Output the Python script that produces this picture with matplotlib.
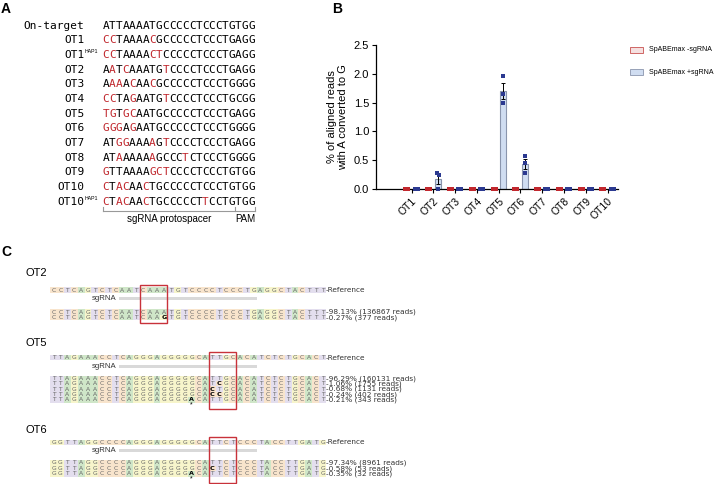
import matplotlib
matplotlib.use('Agg')
import matplotlib.pyplot as plt
from matplotlib.patches import Rectangle
import numpy as np

plt.rcParams['font.family'] = ['Liberation Sans', 'DejaVu Sans']

# ---------------- data ----------------
# panel A
a_labels = ['On-target', 'OT1', 'OT1', 'OT2', 'OT3', 'OT4', 'OT5', 'OT6',
            'OT7', 'OT8', 'OT9', 'OT10', 'OT10']
a_sups = ['', '', 'HAP1', '', '', '', '', '', '', '', '', '', 'HAP1']
a_seqs = [
    'ATTAAAATGCCCCCTCCCTGTGG',
    'CCTAAAACGCCCCCTCCCTGAGG',
    'CCTAAAACTCCCCCTCCCTGAGG',
    'AATCAAATGTCCCCTCCCTGAGG',
    'AAAACAACGCCCCCTCCCTGGGG',
    'CCTAGAATGTCCCCTCCCTGCGG',
    'TGTGCAATGCCCCCTCCCTGAGG',
    'GGGAGAATGCCCCCTCCCTGGGG',
    'ATGGAAAAGTCCCCTCCCTGAGG',
    'ATAAAAAAGCCCTCTCCCTGGGG',
    'GTTAAAAGCTCCCCTCCCTGTGG',
    'CTACAACTGCCCCCTCCCTGTGG',
    'CTACAACTGCCCCCTTCCTGTGG',
]

# panel B
sites = ['OT1', 'OT2', 'OT3', 'OT4', 'OT5', 'OT6', 'OT7', 'OT8', 'OT9', 'OT10']
minus_pts = np.zeros((10, 3))
plus_pts = np.array([
    [0.0, 0.0, 0.0],
    [0.27, 0.25, 0.0],
    [0.0, 0.0, 0.0],
    [0.0, 0.0, 0.0],
    [1.97, 1.65, 1.50],
    [0.58, 0.45, 0.28],
    [0.0, 0.0, 0.0],
    [0.0, 0.0, 0.0],
    [0.0, 0.0, 0.0],
    [0.0, 0.0, 0.0],
])
series_names = ['SpABEmax -sgRNA', 'SpABEmax +sgRNA']

# panel C
c_names = ['OT2', 'OT5', 'OT6']
c_refs = [
    'CCTCAGTCTCAATCAAATGTCCCCTCCCTGAGGCTACTTT',
    'TTAGAAACCTCAGGGAGGGGGCATTGCACATCTCTGCACT',
    'GGTTAGGCCCCAGGGAGGGGGCATTCTCCCTACCTTGATG',
]
c_alleles = [
    ['CCTCAGTCTCAATCAAATGTCCCCTCCCTGAGGCTACTTT',
     'CCTCAGTCTCAATCAAGTGTCCCCTCCCTGAGGCTACTTT'],
    ['TTAGAAACCTCAGGGAGGGGGCATTGCACATCTCTGCACT',
     'TTAGAAACCTCAGGGAGGGGGCATCGCACATCTCTGCACT',
     'TTAGAAACCTCAGGGAGGGGGCACTGCACATCTCTGCACT',
     'TTAGAAACCTCAGGGAGGGGGCACCGCACATCTCTGCACT',
     'TTAGAAACCTCAGGGAGGGGACATTGCACATCTCTGCACT'],
    ['GGTTAGGCCCCAGGGAGGGGGCATTCTCCCTACCTTGATG',
     'GGTTAGGCCCCAGGGAGGGGGCACTCTCCCTACCTTGATG',
     'GGTTAGGCCCCAGGGAGGGGACATTCTCCCTACCTTGATG'],
]
c_freqs = [
    ['98.13% (136867 reads)', '0.27% (377 reads)'],
    ['96.29% (160131 reads)', '1.06% (1755 reads)', '0.68% (1131 reads)',
     '0.24% (402 reads)', '0.21% (343 reads)'],
    ['97.34% (8961 reads)', '0.58% (53 reads)', '0.35% (32 reads)'],
]
c_box = [(13, 4), (23, 4), (23, 4)]      # first cell, number of cells
c_star = [None, 20, 20]
sg_span = (10, 30)

base_col = {'A': '#cfe6c8', 'C': '#f8e4cc', 'G': '#f7f5cb', 'T': '#e3deee'}

# ---------------- figure ----------------
fig = plt.figure(figsize=(7.17, 4.84), dpi=100)
ov = fig.add_axes([0, 0, 1, 1])
ov.set_xlim(0, 717)
ov.set_ylim(484, 0)
ov.axis('off')

for lab, x, y in [('A', 1, 9), ('B', 332, 9), ('C', 1, 252)]:
    ov.text(x, y, lab, fontsize=10, fontweight='bold', va='center', ha='left')

# ---- panel A ----
mono = 'DejaVu Sans Mono'
cw = 6.63
x0 = 102.7
ontarget = a_seqs[0]
for i, (lab, sup, seq) in enumerate(zip(a_labels, a_sups, a_seqs)):
    y = 25.7 + 14.67 * i
    ov.text(84.5, y, lab, family=mono, fontsize=8, ha='right', va='center')
    if sup:
        ov.text(85, y - 3.5, sup, fontsize=3.8, ha='left', va='center')
    for j, ch in enumerate(seq):
        red = i > 0 and j < 20 and ch != ontarget[j]
        ov.text(x0 + cw * (j + 0.5), y, ch, family=mono, fontsize=8,
                ha='center', va='center', color='#c0272d' if red else 'black')

yb = 211
xs_end = x0 + cw * 20
xp_end = x0 + cw * 23
ov.plot([x0, xp_end], [yb, yb], color='#999999', lw=0.8)
for xx in (x0, xs_end, xp_end):
    ov.plot([xx, xx], [yb - 4, yb], color='#999999', lw=0.8)
ov.text((x0 + xs_end) / 2, 219.5, 'sgRNA protospacer', fontsize=7, ha='center', va='center')
ov.text((xs_end + xp_end) / 2, 219.5, 'PAM', fontsize=7, ha='center', va='center')

# ---- panel B ----
ax = fig.add_axes([376 / 717, 1 - 189 / 484, 242 / 717, 144 / 484])
xg = np.arange(len(sites))
off = 0.21
bw = 0.28
red_edge, red_face, red_pt = '#c9504f', '#f5e0e0', '#c1272d'
blu_edge, blu_face, blu_pt = '#8a95ad', '#d0ddf1', '#2b3990'


def spread(vals, step=0.07, tol=0.05):
    # side-by-side offsets for replicate points that would sit on top of each other
    o = np.zeros(len(vals))
    done = set()
    for k in range(len(vals)):
        if k in done:
            continue
        grp = [m for m in range(len(vals)) if abs(vals[m] - vals[k]) < tol]
        done.update(grp)
        for r, m in enumerate(grp):
            o[m] = (r - (len(grp) - 1) / 2) * step
    return o


for pts, sgn, ec, fc, pc in [(minus_pts, -1, red_edge, red_face, red_pt),
                             (plus_pts, 1, blu_edge, blu_face, blu_pt)]:
    mean = pts.mean(axis=1)
    sem = pts.std(axis=1, ddof=1) / np.sqrt(pts.shape[1])
    xs = xg + sgn * off
    ax.bar(xs, mean, width=bw, color=fc, edgecolor=ec, linewidth=0.8, zorder=2)
    ax.errorbar(xs, mean, yerr=sem, fmt='none', ecolor='black', elinewidth=0.7,
                capsize=1.5, capthick=0.7, zorder=3)
    for k in range(len(sites)):
        ax.scatter(xs[k] + spread(pts[k]), pts[k], marker='s', s=5, color=pc,
                   zorder=4, linewidths=0, clip_on=False)

ax.set_xlim(-1.63, 9.48)
ax.set_ylim(0, 2.5)
ax.set_yticks([0, 0.5, 1.0, 1.5, 2.0, 2.5])
ax.set_yticklabels(['0.0', '0.5', '1.0', '1.5', '2.0', '2.5'], fontsize=8)
ax.set_xticks(xg)
ax.set_xticklabels(sites, rotation=45, ha='right', rotation_mode='anchor', fontsize=7.5)
ax.tick_params(length=3, width=0.8, pad=2)
for s in ('top', 'right'):
    ax.spines[s].set_visible(False)
for s in ('left', 'bottom'):
    ax.spines[s].set_linewidth(0.9)
ax.set_ylabel('% of aligned reads\nwith A converted to G', fontsize=8, labelpad=4,
              linespacing=1.15)
ax.patch.set_alpha(0)

for k, (nm, fc, ec) in enumerate(zip(series_names, [red_face, blu_face], [red_edge, blu_edge])):
    yy = 49.7 + 22.6 * k
    ov.add_patch(Rectangle((630, yy - 3), 13.3, 6, facecolor=fc, edgecolor=ec, lw=0.6))
    ov.text(649.3, yy, nm, fontsize=5, ha='left', va='center')

# ---- panel C ----
cx0 = 50.0
ccw = 6.9
rh = 5.4
layout = [(273, 290, 298.6, 312), (343, 357.7, 366.3, 378.3), (430, 442.3, 450.7, 463.0)]
for name, ref, alleles, freqs, (b0, bn), star, (ty, ry, sy, ay) in zip(
        c_names, c_refs, c_alleles, c_freqs, c_box, c_star, layout):
    ov.text(25, ty, name, fontsize=8, ha='left', va='center')
    rows = [(ry, ref, 'Reference', None)]
    for n, (al, fr) in enumerate(zip(alleles, freqs)):
        rows.append((ay + rh * n, al, fr, ref))
    for yy, seq, lab, cmp in rows:
        for j, ch in enumerate(seq):
            ov.add_patch(Rectangle((cx0 + ccw * j, yy - rh / 2), ccw, rh,
                                   facecolor=base_col[ch], edgecolor='none'))
            edited = cmp is not None and ch != cmp[j]
            ov.text(cx0 + ccw * (j + 0.5), yy, ch, fontsize=4.3 if not edited else 4.6,
                    family='DejaVu Sans', ha='center', va='center',
                    color='black' if edited else '#666666',
                    fontweight='bold' if edited else 'normal')
        ov.text(cx0 + ccw * len(seq), yy, '-' + lab, fontsize=5.3, family='DejaVu Sans',
                ha='left', va='center', color='#333333')
    ov.text(cx0 + ccw * sg_span[0] - 2.5, sy, 'sgRNA', fontsize=5.6, ha='right',
            va='center', color='#333333')
    ov.add_patch(Rectangle((cx0 + ccw * sg_span[0], sy - 1.6), ccw * (sg_span[1] - sg_span[0]),
                           3.2, facecolor='#d9d9d9', edgecolor='none'))
    last = ay + rh * (len(alleles) - 1)
    if star is not None:
        ov.text(cx0 + ccw * (star + 0.5), last + 5, '*', fontsize=5, ha='center',
                va='center', color='black')
        bottom = last + rh / 2 + 6
    else:
        bottom = last + rh / 2 + 2.7
    top = ry - rh / 2 - 2.7
    ov.add_patch(Rectangle((cx0 + ccw * b0, top), ccw * bn, bottom - top,
                           facecolor='none', edgecolor='#c8323a', lw=1.0))

fig.savefig('out.png', dpi=100)
